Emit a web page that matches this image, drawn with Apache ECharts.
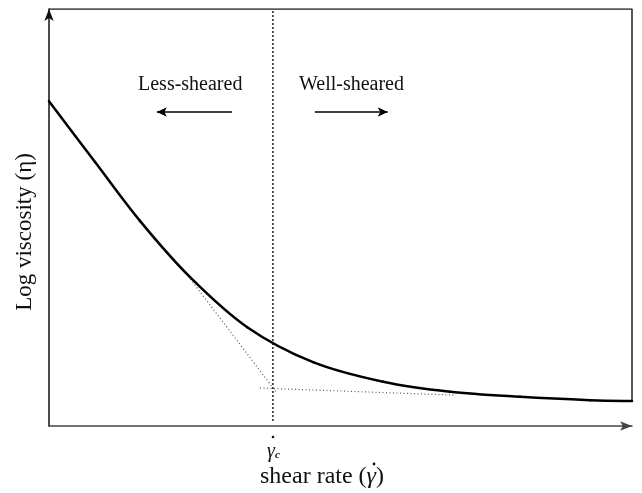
<!DOCTYPE html>
<html>
<head>
<meta charset="utf-8">
<script src="https://cdn.jsdelivr.net/npm/echarts@6/dist/echarts.min.js"></script>
<style>
  html, body { margin: 0; padding: 0; background: #fff; }
  #chart { width: 642px; height: 493px; }
</style>
</head>
<body>
<div id="chart"></div>
<script>
// shear rate (arbitrary units 0-100) vs log viscosity (arbitrary 0-100)
var shearRate = [0, 7.9, 15.6, 24.2, 34.0, 45.3, 57.3, 68.8, 80.8, 92.8, 100];
var logVisc = [77.9, 63.3, 49.2, 35.7, 23.7, 15.3, 10.6, 8.2, 7.0, 6.2, 6.0];

// asymptotes of the two regimes
var lowShearTangent = [[22.8, 37.9], [39.1, 7.9]];
var highShearTangent = [[36.2, 9.1], [69.6, 7.4]];

var criticalRate = 38.4;
var arrowY = 75.3;
var leftArrow = [31.4, 18.5];
var rightArrow = [45.6, 58.1];

var FONT = "'Liberation Serif', 'DejaVu Serif', serif";

var chart = echarts.init(document.getElementById("chart"));

var curve = shearRate.map(function (x, i) { return [x, logVisc[i]]; });

// smooth curve through the points (catmull-rom -> bezier), in pixel space
function renderCurve(params, api) {
  if (params.dataIndex !== 0) return;
  var p = curve.map(function (d) { return api.coord(d); });
  var n = p.length;
  var children = [];
  for (var i = 0; i < n - 1; i++) {
    var p0 = p[Math.max(i - 1, 0)], p1 = p[i], p2 = p[i + 1], p3 = p[Math.min(i + 2, n - 1)];
    children.push({
      type: "bezierCurve",
      shape: {
        x1: p1[0], y1: p1[1], x2: p2[0], y2: p2[1],
        cpx1: p1[0] + (p2[0] - p0[0]) / 6, cpy1: p1[1] + (p2[1] - p0[1]) / 6,
        cpx2: p2[0] - (p3[0] - p1[0]) / 6, cpy2: p2[1] - (p3[1] - p1[1]) / 6
      },
      style: { stroke: "#000", lineWidth: 2.5, fill: null, lineCap: "round" }
    });
  }
  return { type: "group", children: children };
}

var option = {
  animation: false,
  backgroundColor: "#fff",
  grid: { left: 49, right: 10, top: 9, bottom: 67 },
  xAxis: {
    type: "value",
    min: 0,
    max: 100,
    axisLine: {
      show: true,
      symbol: ["none", "arrow"],
      symbolSize: [7, 12],
      lineStyle: { color: "#444", width: 1.5 }
    },
    axisTick: { show: false },
    axisLabel: { show: false },
    splitLine: { show: false }
  },
  yAxis: {
    type: "value",
    min: 0,
    max: 100,
    axisLine: {
      show: true,
      symbol: ["none", "arrow"],
      symbolSize: [7, 12],
      lineStyle: { color: "#111", width: 1.5 }
    },
    axisTick: { show: false },
    axisLabel: { show: false },
    splitLine: { show: false }
  },
  series: [
    {
      type: "custom",
      data: curve,
      encode: { x: 0, y: 1 },
      renderItem: renderCurve,
      z: 5
    },
    {
      type: "line",
      data: lowShearTangent,
      showSymbol: false,
      lineStyle: { color: "#555", width: 1.2, type: [1, 2.5] }
    },
    {
      type: "line",
      data: highShearTangent,
      showSymbol: false,
      lineStyle: { color: "#555", width: 1.2, type: [1, 2.5] }
    },
    {
      type: "line",
      data: [[criticalRate, 1.2], [criticalRate, 100]],
      showSymbol: false,
      lineStyle: { color: "#222", width: 1.5, type: [2, 2] }
    },
    {
      // frame: top and right edges
      type: "line",
      data: [[0, 100], [100, 100], [100, logVisc[logVisc.length - 1]]],
      showSymbol: false,
      lineStyle: { color: "#222", width: 1.5 }
    },
    {
      type: "line",
      data: [],
      markLine: {
        silent: true,
        symbol: ["none", "arrow"],
        symbolSize: [7, 10],
        label: { show: false },
        lineStyle: { color: "#000", width: 1.5, type: "solid" },
        data: [
          [{ coord: [leftArrow[0], arrowY] }, { coord: [leftArrow[1], arrowY] }],
          [{ coord: [rightArrow[0], arrowY] }, { coord: [rightArrow[1], arrowY] }]
        ]
      }
    }
  ],
  graphic: [
    {
      type: "text",
      x: 25, y: 232,
      rotation: Math.PI / 2,
      style: {
        text: "Log viscosity (\u03b7)",
        font: "23px " + FONT, fill: "#111",
        align: "center", verticalAlign: "middle"
      }
    },
    {
      type: "text",
      left: 138, top: 75,
      style: { text: "Less-sheared", font: "20px " + FONT, fill: "#111" }
    },
    {
      type: "text",
      left: 299, top: 75,
      style: { text: "Well-sheared", font: "20px " + FONT, fill: "#111" }
    },
    {
      type: "text",
      x: 267, y: 452,
      style: {
        text: "{g|\u03b3}{c|c}",
        verticalAlign: "middle",
        rich: {
          g: { font: "italic 20px " + FONT, fill: "#111" },
          c: { font: "italic bold 11px " + FONT, fill: "#111", padding: [6, 0, 0, 0] }
        }
      }
    },
    { type: "circle", shape: { cx: 273, cy: 437, r: 1.3 }, style: { fill: "#111" } },
    {
      type: "text",
      x: 260, y: 477,
      style: {
        text: "{t|shear rate (}{g|\u03b3}{t|)}",
        verticalAlign: "middle",
        rich: {
          t: { font: "24px " + FONT, fill: "#111" },
          g: { font: "italic 24px " + FONT, fill: "#111" }
        }
      }
    },
    { type: "circle", shape: { cx: 374, cy: 464, r: 1.4 }, style: { fill: "#111" } }
  ]
};

chart.setOption(option);
</script>
</body>
</html>
